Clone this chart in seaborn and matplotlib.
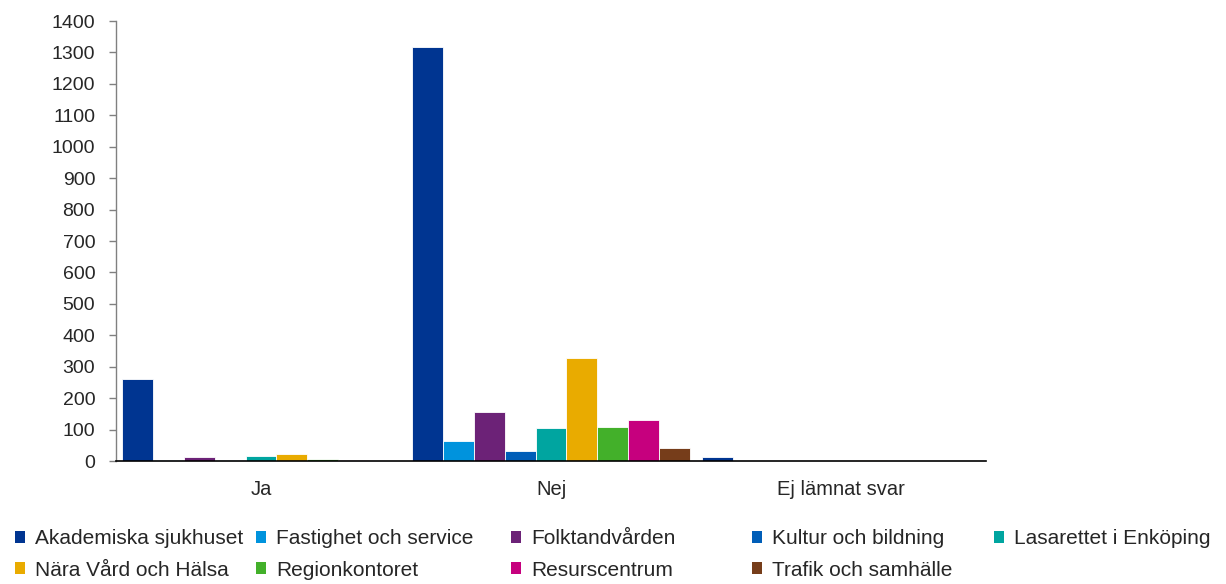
import matplotlib
matplotlib.use("Agg")
import matplotlib.pyplot as plt
import seaborn as sns
import pandas as pd
from matplotlib.patches import Patch

categories = ["Ja", "Nej", "Ej lämnat svar"]
series = ["Akademiska sjukhuset", "Fastighet och service", "Folktandvården",
          "Kultur och bildning", "Lasarettet i Enköping", "Nära Vård och Hälsa",
          "Regionkontoret", "Resurscentrum", "Trafik och samhälle"]
akademiska = [260, 1318, 13]
fastighet = [2, 65, 0]
folktand = [14, 156, 0]
kultur = [2, 32, 0]
lasarettet = [16, 105, 0]
nara = [22, 327, 3]
region = [6, 109, 0]
resurs = [3, 130, 1]
trafik = [0, 42, 0]
values = [akademiska, fastighet, folktand, kultur, lasarettet, nara, region, resurs, trafik]
colors = ["#003591", "#0093DD", "#6C2277", "#005EB8", "#00A5A0",
          "#E9AB00", "#43B02A", "#C6007E", "#763D1A"]
yticks = list(range(0, 1401, 100))

rows = []
for s, vals in zip(series, values):
    for c, v in zip(categories, vals):
        rows.append({"cat": c, "series": s, "value": v})
df = pd.DataFrame(rows)

sns.set_style("white")
plt.rcParams['font.family'] = ['Liberation Sans', 'DejaVu Sans']
FS_TICK = 14
FS_CAT = 14.5
FS_LEG = 15

fig = plt.figure(figsize=(12.26, 5.84), dpi=100)
ax = fig.add_axes([116/1226, 1-461/584, (986-116)/1226, (461-21)/584])
sns.barplot(data=df, x="cat", y="value", hue="series", order=categories,
            hue_order=series, palette=colors, saturation=1, width=0.96, gap=0,
            edgecolor="white", linewidth=0.6, ax=ax, legend=False)

ax.set_xlim(-0.5, 2.5)
ax.set_ylim(0, 1400)
ax.set_yticks(yticks)
ax.set_yticklabels([str(t) for t in yticks], fontsize=FS_TICK)
ax.set_xlabel("")
ax.set_ylabel("")
ax.set_xticks([0, 1, 2])
ax.set_xticklabels(categories, fontsize=FS_CAT)
ax.set_xticks([-0.5, 0.5, 1.5, 2.5], minor=True)
ax.tick_params(axis="x", which="major", length=0, pad=14)
ax.tick_params(axis="x", which="minor", length=6, width=1, color="#808080", direction="out")
ax.tick_params(axis="y", which="major", length=5, width=1, color="#808080", direction="out", pad=10, left=True)
for s in ["top", "right"]:
    ax.spines[s].set_visible(False)
ax.spines["left"].set_color("#808080")
ax.spines["bottom"].set_color("#000000")
ax.spines["left"].set_linewidth(1)
ax.spines["bottom"].set_linewidth(1.2)

handles = [Patch(facecolor=c, edgecolor="none", label=s) for s, c in zip(series, colors)]
col_x = [15, 256, 511, 752, 994]
for j in range(5):
    hs = [handles[j]]
    if j + 5 < len(handles):
        hs.append(handles[j + 5])
    fig.legend(handles=hs, loc="upper left", bbox_to_anchor=(col_x[j]/1226, 1-529/584),
               frameon=False, fontsize=FS_LEG, handlelength=0.5, handleheight=0.5,
               handletextpad=0.45, labelspacing=0.6, borderpad=0, borderaxespad=0)

fig.savefig("out.png", dpi=100)
